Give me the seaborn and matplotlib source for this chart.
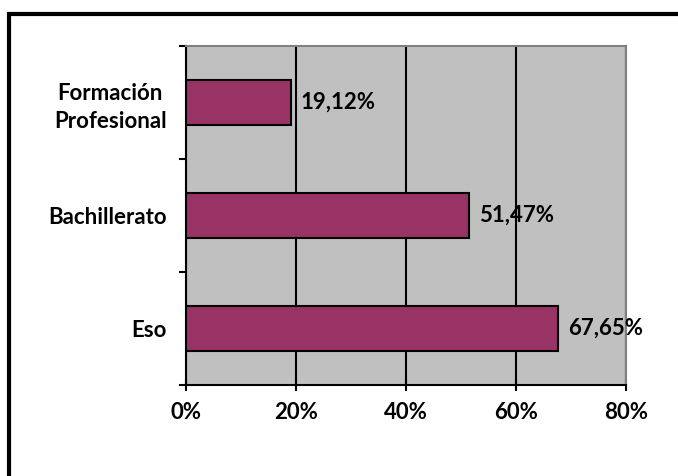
import matplotlib
matplotlib.use("Agg")
import matplotlib.pyplot as plt
import matplotlib.patches as patches
import seaborn as sns
import pandas as pd

# data
categories = ["Formación\nProfesional", "Bachillerato", "Eso"]
values = [19.12, 51.47, 67.65]
value_labels = ["19,12%", "51,47%", "67,65%"]
xticks = [0, 20, 40, 60, 80]
xtick_labels = ["0%", "20%", "40%", "60%", "80%"]

df = pd.DataFrame({"nivel": categories, "pct": values})

sns.set_style("white")
plt.rcParams["font.family"] = ["Lato", "DejaVu Sans"]
plt.rcParams["font.weight"] = "bold"
plt.rcParams["text.color"] = "black"
plt.rcParams["xtick.labelcolor"] = "black"
plt.rcParams["ytick.labelcolor"] = "black"

fig = plt.figure(figsize=(6.78, 4.76), dpi=100)
ax = fig.add_axes([186 / 678, 1 - 385 / 476, 440 / 678, 339 / 476])
ax.set_facecolor("#C0C0C0")

sns.barplot(data=df, x="pct", y="nivel", orient="h", color="#993366",
            width=0.4, edgecolor="black", linewidth=1.5, saturation=1,
            ax=ax, zorder=3)

# value labels next to bars
ax.bar_label(ax.containers[0], labels=value_labels, padding=7,
             fontsize=16, fontweight="bold", color="black")

ax.set_xlim(0, 80)
ax.set_ylim(2.5, -0.5)
ax.set_xticks(xticks)
ax.set_xticklabels(xtick_labels, fontsize=16, fontweight="bold")
ax.set_xlabel("")
ax.set_ylabel("")

# vertical grid lines
ax.xaxis.grid(True, color="black", linewidth=1.5, zorder=1)
ax.set_axisbelow(True)

# y ticks between the categories, labels without ticks
ax.set_yticks([-0.5, 0.5, 1.5, 2.5], minor=True)
ax.tick_params(axis="y", which="minor", length=5, width=1.5, color="black", direction="out", left=True)
ax.tick_params(axis="y", which="major", length=0, pad=14, labelsize=16, labelcolor="black")
for lab in ax.get_yticklabels():
    lab.set_fontweight("bold")
    lab.set_multialignment("center")
    lab.set_linespacing(1.4)
ax.tick_params(axis="x", which="major", length=9, width=1.5, color="black",
               direction="inout", pad=8, bottom=True, labelcolor="black")

for side in ["left", "bottom"]:
    ax.spines[side].set_color("black")
    ax.spines[side].set_linewidth(1.5)
for side in ["top", "right"]:
    ax.spines[side].set_visible(True)
    ax.spines[side].set_color("#808080")
    ax.spines[side].set_linewidth(1.5)

# outer chart frame (only top and left edges fall inside the picture)
frame = patches.Rectangle((9 / 678, -0.2), 1.0, 1.2 - 14 / 476,
                          transform=fig.transFigure, fill=False,
                          edgecolor="black", linewidth=3, clip_on=False)
fig.patches.append(frame)

fig.savefig("out.png", dpi=100)
